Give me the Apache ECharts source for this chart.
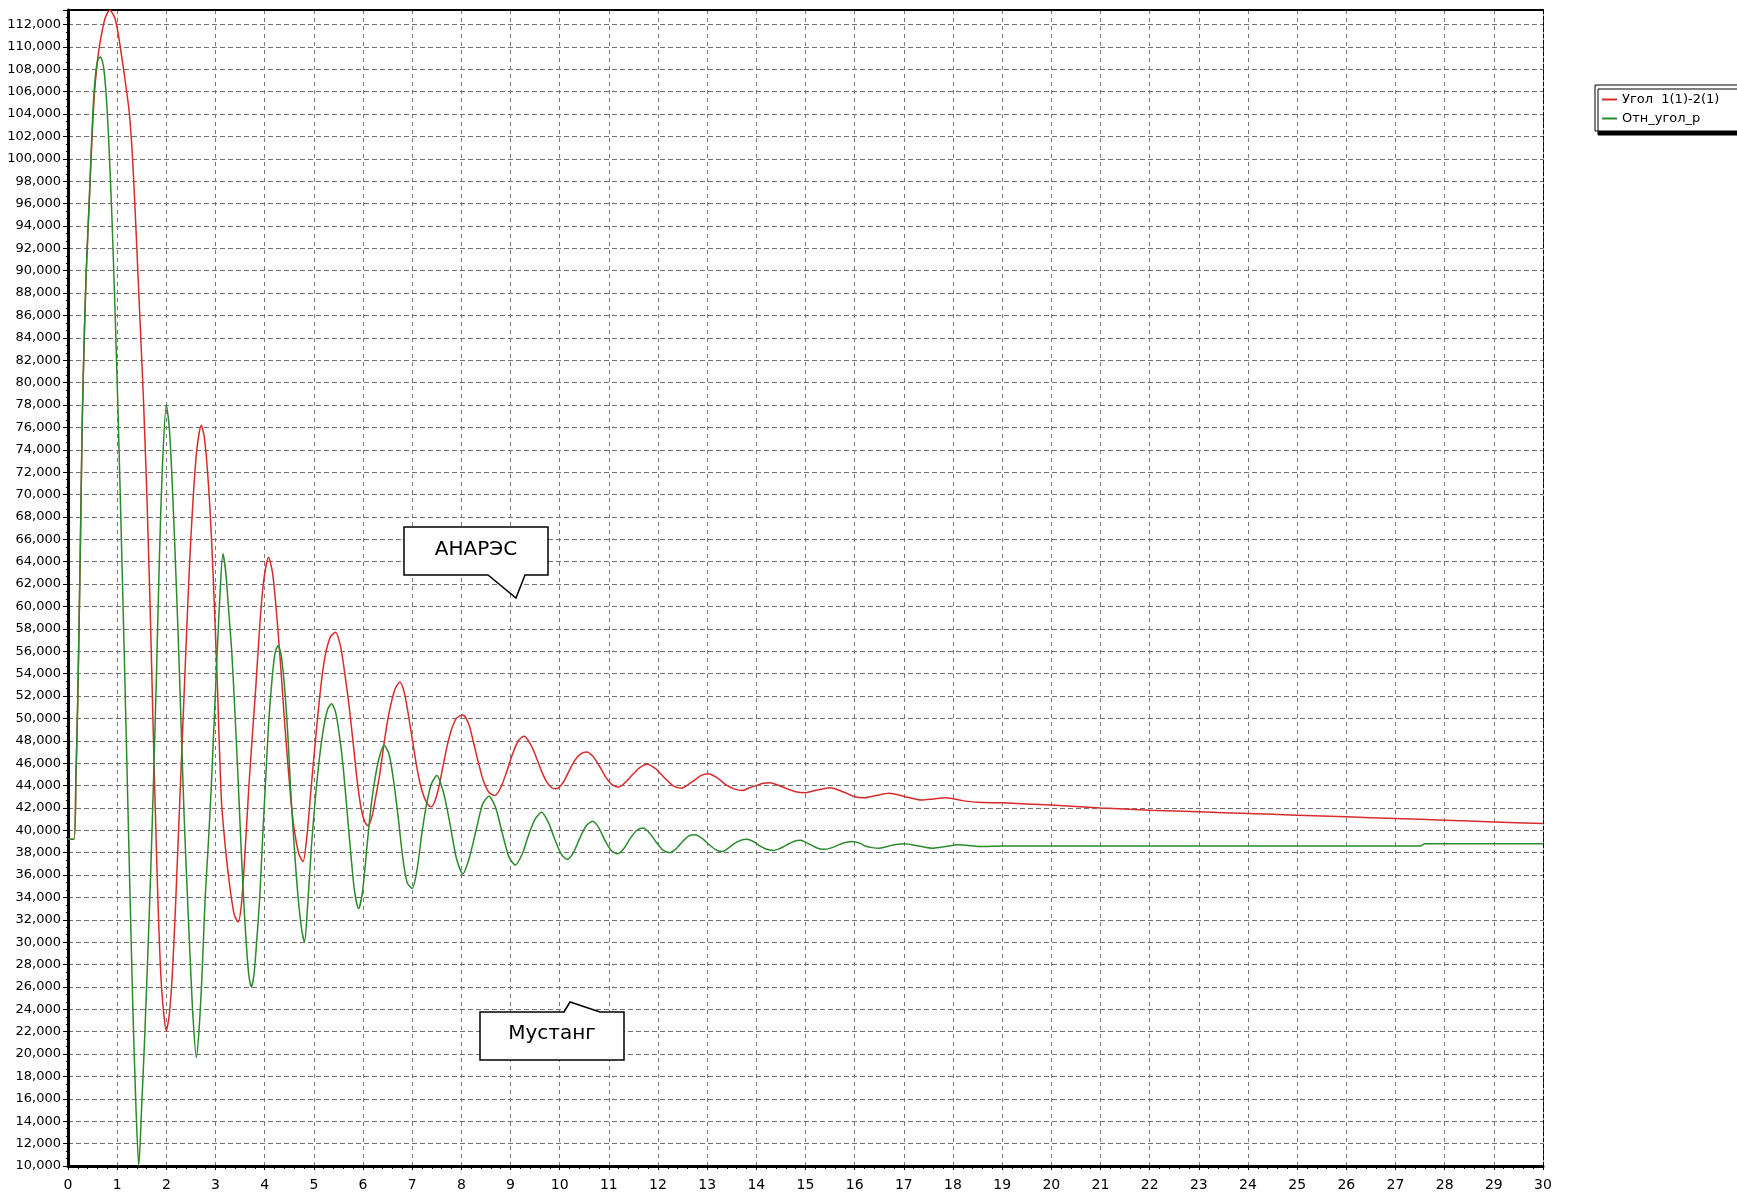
<!DOCTYPE html>
<html>
<head>
<meta charset="utf-8">
<script src="https://cdn.jsdelivr.net/npm/echarts@6/dist/echarts.min.js"></script>
<style>
html,body{margin:0;padding:0;background:#fff;}
#chart{width:1737px;height:1193px;}
</style>
</head>
<body>
<div id="chart"></div>
<script>
// Series names
const seriesNames = ['Угол  1(1)-2(1)', 'Отн_угол_р'];

// Угол 1(1)-2(1) : [time, value]
const angleData = [
  [0,39.2],[0.12,39.2],[0.16,44.5],[0.2,52],[0.25,65],[0.29,76.6],[0.33,84],[0.37,89.8],[0.43,96],[0.49,102],
  [0.54,106],[0.6,108.8],[0.66,110.6],[0.75,112.5],[0.85,113.3],[0.95,112.6],[1.02,111.2],[1.12,108.3],[1.19,106.1],[1.25,104],
  [1.32,99.5],[1.39,93],[1.46,86],[1.53,79],[1.6,70.5],[1.67,60],[1.73,49.5],[1.79,39.5],[1.85,31],[1.91,25.5],
  [2.0,22.1],[2.06,23.5],[2.12,27],[2.18,32.5],[2.24,39],[2.3,45.5],[2.36,52],[2.42,58.5],[2.48,64.5],[2.55,70],
  [2.62,74],[2.71,76.2],[2.77,75.2],[2.83,72.5],[2.89,68.5],[2.95,63],[3.03,54],[3.12,42.7],[3.2,38.5],[3.29,35],
  [3.38,32.5],[3.46,31.8],[3.53,33.5],[3.6,38],[3.68,44],[3.75,48.5],[3.82,52.8],[3.9,58.3],[3.98,62.3],[4.08,64.4],
  [4.16,63],[4.24,59.5],[4.32,55],[4.4,50],[4.48,45.5],[4.56,41.5],[4.64,39],[4.71,37.7],[4.78,37.2],[4.86,39.5],
  [4.93,43],[5.0,46.5],[5.08,50.2],[5.16,53.5],[5.24,55.8],[5.34,57.3],[5.44,57.7],[5.54,56.5],[5.63,54],[5.72,51],
  [5.8,47.8],[5.88,44.5],[5.96,42],[6.03,40.8],[6.1,40.4],[6.18,41.2],[6.26,43],[6.34,45],[6.42,47.5],[6.5,49.8],
  [6.58,51.5],[6.66,52.7],[6.75,53.25],[6.84,52.3],[6.92,50.4],[7.0,48.2],[7.08,46],[7.16,44.2],[7.24,43],[7.32,42.3],
  [7.39,42.1],[7.47,42.7],[7.55,44],[7.63,45.8],[7.71,47.5],[7.8,49],[7.9,50],[8.03,50.3],[8.15,49.5],[8.25,47.8],
  [8.35,46],[8.45,44.4],[8.56,43.4],[8.68,43.1],[8.8,43.8],[8.92,45.2],[9.04,46.8],[9.16,48],[9.27,48.4],[9.38,47.9],
  [9.5,46.8],[9.62,45.4],[9.74,44.3],[9.84,43.8],[9.93,43.7],[10.06,44.2],[10.18,45.2],[10.3,46.2],[10.42,46.8],[10.55,47.0],
  [10.68,46.6],[10.8,45.8],[10.93,44.8],[11.06,44.1],[11.2,43.85],[11.34,44.3],[11.49,45.0],[11.63,45.6],[11.78,45.9],[11.95,45.5],
  [12.13,44.7],[12.3,44.0],[12.48,43.75],[12.62,44.1],[12.75,44.5],[12.88,44.9],[13.02,45.05],[13.2,44.7],[13.37,44.1],[13.55,43.7],
  [13.72,43.55],[13.86,43.8],[14.0,44.0],[14.14,44.2],[14.28,44.25],[14.46,44.0],[14.63,43.7],[14.8,43.45],[14.98,43.35],[15.24,43.6],
  [15.5,43.8],[15.67,43.6],[15.84,43.3],[16.0,43.0],[16.18,42.9],[16.44,43.1],[16.7,43.3],[17.03,43.0],[17.36,42.7],[17.61,42.8],
  [17.86,42.9],[18.2,42.65],[18.5,42.5],[19,42.45],[20,42.25],[21,42.0],[22,41.8],[23,41.65],[24,41.5],[25,41.35],
  [26,41.2],[27,41.05],[28,40.9],[29,40.75],[30,40.6]
];

// Отн_угол_р : [time, value]
const relAngleData = [
  [0,39.2],[0.12,39.2],[0.16,44.5],[0.2,52],[0.25,65],[0.29,76.6],[0.33,84],[0.37,89.8],[0.43,96],[0.47,100.5],
  [0.51,104.5],[0.56,107.5],[0.61,108.9],[0.66,109.1],[0.72,108.3],[0.78,105.5],[0.84,100.5],[0.9,94],[0.96,86],[1.02,77],
  [1.08,67],[1.14,56.5],[1.2,45.5],[1.26,34.5],[1.32,24],[1.38,15.5],[1.44,10],[1.5,15.5],[1.56,21.5],[1.62,28.5],
  [1.68,36],[1.74,44.5],[1.8,54],[1.86,64.5],[1.92,72.5],[2.0,78],[2.06,76],[2.12,71],[2.18,64.5],[2.24,57.5],
  [2.3,49.5],[2.36,41.5],[2.42,35],[2.48,29],[2.54,23.5],[2.61,19.7],[2.67,22.5],[2.73,27.5],[2.79,34],[2.85,38.5],
  [2.91,43.5],[2.97,49.5],[3.03,55.5],[3.09,61],[3.15,64.7],[3.21,63],[3.27,59.5],[3.33,56],[3.39,51],[3.45,45.5],
  [3.51,39.5],[3.57,34],[3.63,29.6],[3.68,27],[3.73,26],[3.78,27],[3.83,29.6],[3.9,34],[3.96,39.5],[4.02,44.5],
  [4.08,49.5],[4.15,53.5],[4.21,55.8],[4.27,56.5],[4.33,55.8],[4.4,53],[4.47,48.6],[4.54,42.7],[4.61,38],[4.68,34],
  [4.75,31.2],[4.81,30],[4.87,33],[4.95,38.5],[5.03,42.8],[5.11,46.3],[5.2,49.2],[5.28,50.8],[5.36,51.3],[5.44,50.6],
  [5.52,48.5],[5.6,45.5],[5.68,41.5],[5.76,37.5],[5.83,34.5],[5.91,33],[5.99,34.5],[6.08,38.5],[6.16,42],[6.24,44.5],
  [6.33,46.5],[6.43,47.6],[6.53,46.8],[6.62,44.5],[6.72,41],[6.81,37.5],[6.9,35.3],[7.0,34.8],[7.1,36.5],[7.19,39.5],
  [7.28,42],[7.38,44],[7.5,44.9],[7.63,43.5],[7.76,40.8],[7.9,37.5],[8.03,36.1],[8.16,37.5],[8.3,40],[8.43,42.3],
  [8.56,43.05],[8.7,42],[8.83,39.8],[8.97,37.6],[9.1,36.9],[9.24,37.9],[9.37,39.6],[9.5,41],[9.63,41.6],[9.77,40.7],
  [9.9,39.2],[10.03,37.9],[10.15,37.4],[10.28,38],[10.41,39.3],[10.54,40.4],[10.67,40.8],[10.8,40.2],[10.92,39.1],[11.05,38.2],
  [11.18,37.9],[11.31,38.4],[11.44,39.3],[11.57,40.0],[11.7,40.2],[11.84,39.7],[11.97,38.9],[12.11,38.2],[12.25,38.0],[12.38,38.4],
  [12.5,39.0],[12.63,39.5],[12.75,39.6],[12.89,39.3],[13.02,38.8],[13.16,38.3],[13.3,38.1],[13.43,38.4],[13.55,38.8],[13.68,39.1],
  [13.8,39.2],[13.94,39.0],[14.07,38.6],[14.21,38.3],[14.35,38.2],[14.49,38.4],[14.62,38.7],[14.76,39.0],[14.9,39.1],[15.02,38.9],
  [15.15,38.6],[15.28,38.35],[15.4,38.3],[15.54,38.45],[15.67,38.7],[15.81,38.9],[15.95,39.0],[16.1,38.85],[16.22,38.6],[16.36,38.45],
  [16.5,38.4],[16.62,38.5],[16.75,38.65],[16.88,38.75],[17.0,38.8],[17.3,38.6],[17.6,38.4],[17.85,38.55],[18.1,38.7],[18.6,38.55],
  [19,38.6],[20,38.6],[22,38.6],[24,38.6],[26,38.6],[27.5,38.6],[27.6,38.8],[30,38.8]
];

// Axis settings
const xMin = 0, xMax = 30, xStep = 1;
const yMin = 10, yMax = 113.3, yStep = 2;

// Callout labels
const calloutTop = 'АНАРЭС';
const calloutBottom = 'Мустанг';

const chart = echarts.init(document.getElementById('chart'), null, {renderer: 'canvas'});

const FONT = '"DejaVu Sans", Verdana, sans-serif';

const option = {
  backgroundColor: '#ffffff',
  animation: false,
  grid: {left: 68, right: 194, top: 10, bottom: 27, containLabel: false},
  legend: {
    orient: 'vertical',
    left: 1595,
    top: 85,
    backgroundColor: '#ffffff',
    borderColor: '#000',
    borderWidth: 1,
    padding: [8, 20, 6, 7],
    itemGap: 6,
    itemWidth: 15,
    itemHeight: 2,
    icon: 'rect',
    shadowColor: '#000',
    shadowOffsetX: 3,
    shadowOffsetY: 4,
    shadowBlur: 0,
    textStyle: {fontFamily: FONT, fontSize: 13, color: '#000'},
    data: seriesNames
  },
  xAxis: [{
    type: 'value',
    min: xMin, max: xMax, interval: xStep,
    axisLine: {show: true, onZero: false, lineStyle: {color: '#000', width: 3}},
    axisTick: {show: true, length: 4, lineStyle: {color: '#000', width: 1}},
    minorTick: {show: true, splitNumber: 5, length: 3, lineStyle: {color: '#000', width: 1}},
    axisLabel: {color: '#000', fontFamily: FONT, fontSize: 14, margin: 12},
    splitLine: {show: true, lineStyle: {color: '#7a7a7a', width: 1, type: [4, 4]}}
  }, {
    type: 'value',
    position: 'top',
    min: xMin, max: xMax, interval: xStep,
    axisLine: {show: true, onZero: false, lineStyle: {color: '#000', width: 2}},
    axisTick: {show: false},
    axisLabel: {show: false},
    splitLine: {show: false}
  }],
  yAxis: [{
    type: 'value',
    min: yMin, max: yMax, interval: yStep,
    axisLine: {show: true, onZero: false, lineStyle: {color: '#000', width: 3}},
    axisTick: {show: true, length: 5, lineStyle: {color: '#000', width: 1}},
    minorTick: {show: true, splitNumber: 3, length: 2, lineStyle: {color: '#000', width: 1}},
    axisLabel: {
      color: '#000', fontFamily: FONT, fontSize: 13, margin: 7, showMaxLabel: false,
      formatter: v => v.toFixed(3).replace('.', ',')
    },
    splitLine: {show: true, lineStyle: {color: '#707070', width: 1, type: [5, 3]}}
  }, {
    type: 'value',
    position: 'right',
    min: yMin, max: yMax, interval: yStep,
    axisLine: {show: true, onZero: false, lineStyle: {color: '#000', width: 1, type: [4, 2]}},
    axisTick: {show: false},
    axisLabel: {show: false},
    splitLine: {show: false}
  }],
  series: [{
    name: seriesNames[0],
    type: 'line',
    data: angleData,
    showSymbol: false,
    smooth: 0.25,
    z: 5,
    color: '#d92b2b',
    lineStyle: {color: '#d92b2b', width: 1.5}
  }, {
    name: seriesNames[1],
    type: 'line',
    data: relAngleData,
    showSymbol: false,
    smooth: 0.25,
    z: 6,
    color: '#2b8a2b',
    lineStyle: {color: '#2b8a2b', width: 1.5}
  }],
  graphic: [
    {
      type: 'polygon', z: 100,
      shape: {points: [[404,527],[548,527],[548,575],[525,575],[516,598],[488,575],[404,575]]},
      style: {fill: '#fff', stroke: '#000', lineWidth: 1.5}
    },
    {
      type: 'text', z: 101, x: 476, y: 550,
      style: {text: calloutTop, font: '20px ' + FONT, fill: '#000', align: 'center', verticalAlign: 'middle'}
    },
    {
      type: 'polygon', z: 100,
      shape: {points: [[480,1012],[564,1012],[570,1002],[600,1012],[624,1012],[624,1060],[480,1060]]},
      style: {fill: '#fff', stroke: '#000', lineWidth: 1.5}
    },
    {
      type: 'text', z: 101, x: 552, y: 1034,
      style: {text: calloutBottom, font: '20px ' + FONT, fill: '#000', align: 'center', verticalAlign: 'middle'}
    }
  ]
};

chart.setOption(option);
</script>
</body>
</html>
